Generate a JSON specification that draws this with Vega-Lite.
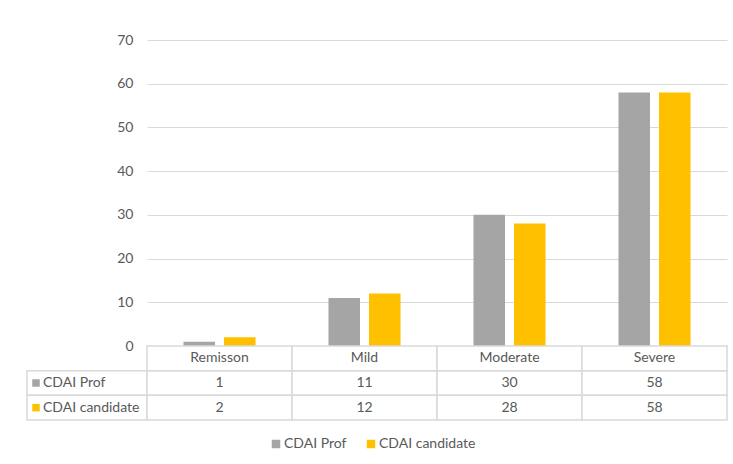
{
  "$schema": "https://vega.github.io/schema/vega-lite/v6.json",
  "padding": {"left": 26, "top": 33, "right": 5, "bottom": 5},
  "background": "white",
  "config": {"font": "Lato", "view": {"stroke": null}},
  "datasets": {
    "d": [
      {"category": "Remisson", "series": "CDAI Prof", "value": 1},
      {"category": "Mild", "series": "CDAI Prof", "value": 11},
      {"category": "Moderate", "series": "CDAI Prof", "value": 30},
      {"category": "Severe", "series": "CDAI Prof", "value": 58},
      {"category": "Remisson", "series": "CDAI candidate", "value": 2},
      {"category": "Mild", "series": "CDAI candidate", "value": 12},
      {"category": "Moderate", "series": "CDAI candidate", "value": 28},
      {"category": "Severe", "series": "CDAI candidate", "value": 58}
    ]
  },
  "columns": 2,
  "spacing": 0,
  "bounds": "flush",
  "concat": [
    {
      "width": 120,
      "height": 306,
      "data": {"values": [{}]},
      "mark": {"type": "text", "text": ""},
      "encoding": {}
    },
    {
      "width": 580,
      "height": 306,
      "data": {"name": "d"},
      "mark": {"type": "bar"},
      "encoding": {
        "x": {"field": "category", "type": "nominal", "sort": ["Remisson", "Mild", "Moderate", "Severe"], "scale": {"paddingInner": 0, "paddingOuter": 0}, "axis": null},
        "xOffset": {"field": "series", "type": "nominal", "sort": ["CDAI Prof", "CDAI candidate"], "scale": {"paddingInner": 0.222, "paddingOuter": 0.9}},
        "y": {"field": "value", "type": "quantitative", "scale": {"domain": [0, 70], "nice": false},
          "axis": {"values": [0, 10, 20, 30, 40, 50, 60, 70], "grid": true, "gridColor": "#D9D9D9", "gridWidth": 1, "domain": false, "ticks": false, "labelPadding": 14, "labelFontSize": 14, "labelColor": "#595959", "title": null}},
        "color": {"field": "series", "type": "nominal", "scale": {"domain": ["CDAI Prof", "CDAI candidate"], "range": ["#A5A5A5", "#FFC000"]},
          "legend": {"orient": "none", "legendX": 242, "legendY": 397, "direction": "horizontal", "title": null, "symbolType": "square", "symbolSize": 72, "symbolStrokeWidth": 0, "labelFontSize": 14, "labelColor": "#595959", "columnPadding": 17, "labelOffset": 1, "padding": 0}}
      }
    },
    {
      "width": 120,
      "height": 74,
      "data": {"name": "d"},
      "transform": [{"filter": "datum.category === 'Remisson'"}],
      "encoding": {
        "y": {"field": "series", "type": "nominal", "scale": {"domain": ["header", "CDAI Prof", "CDAI candidate"], "paddingInner": 0, "paddingOuter": 0}, "axis": null}
      },
      "layer": [
        {
          "mark": {"type": "rect", "fill": "white", "stroke": "#D9D9D9", "strokeWidth": 1.5},
          "encoding": {
            "x": {"datum": 0, "type": "quantitative", "scale": {"domain": [0, 1]}, "axis": null},
            "x2": {"datum": 1}
          }
        },
        {
          "mark": {"type": "point", "shape": "square", "filled": true, "size": 56, "opacity": 1, "xOffset": 9},
          "encoding": {
            "x": {"datum": 0, "type": "quantitative"},
            "color": {"field": "series", "type": "nominal"}
          }
        },
        {
          "mark": {"type": "text", "align": "left", "dx": 16, "fontSize": 14, "color": "#595959"},
          "encoding": {
            "x": {"datum": 0, "type": "quantitative"},
            "text": {"field": "series"}
          }
        }
      ]
    },
    {
      "width": 580,
      "height": 74,
      "data": {"name": "d"},
      "encoding": {
        "x": {"field": "category", "type": "nominal", "sort": ["Remisson", "Mild", "Moderate", "Severe"], "scale": {"paddingInner": 0, "paddingOuter": 0}, "axis": null}
      },
      "layer": [
        {
          "mark": {"type": "rect", "fill": "white", "stroke": "#D9D9D9", "strokeWidth": 1.5},
          "encoding": {
            "y": {"field": "series", "type": "nominal", "scale": {"domain": ["header", "CDAI Prof", "CDAI candidate"], "paddingInner": 0, "paddingOuter": 0}, "axis": null}
          }
        },
        {
          "transform": [{"filter": "datum.series === 'CDAI Prof'"}],
          "mark": {"type": "rect", "fill": "white", "stroke": "#D9D9D9", "strokeWidth": 1.5},
          "encoding": {"y": {"datum": "header"}}
        },
        {
          "mark": {"type": "text", "fontSize": 14, "color": "#595959"},
          "encoding": {
            "y": {"field": "series", "type": "nominal"},
            "text": {"field": "value"}
          }
        },
        {
          "transform": [{"filter": "datum.series === 'CDAI Prof'"}],
          "mark": {"type": "text", "fontSize": 14, "color": "#595959"},
          "encoding": {
            "y": {"datum": "header"},
            "text": {"field": "category"}
          }
        }
      ]
    }
  ]
}
